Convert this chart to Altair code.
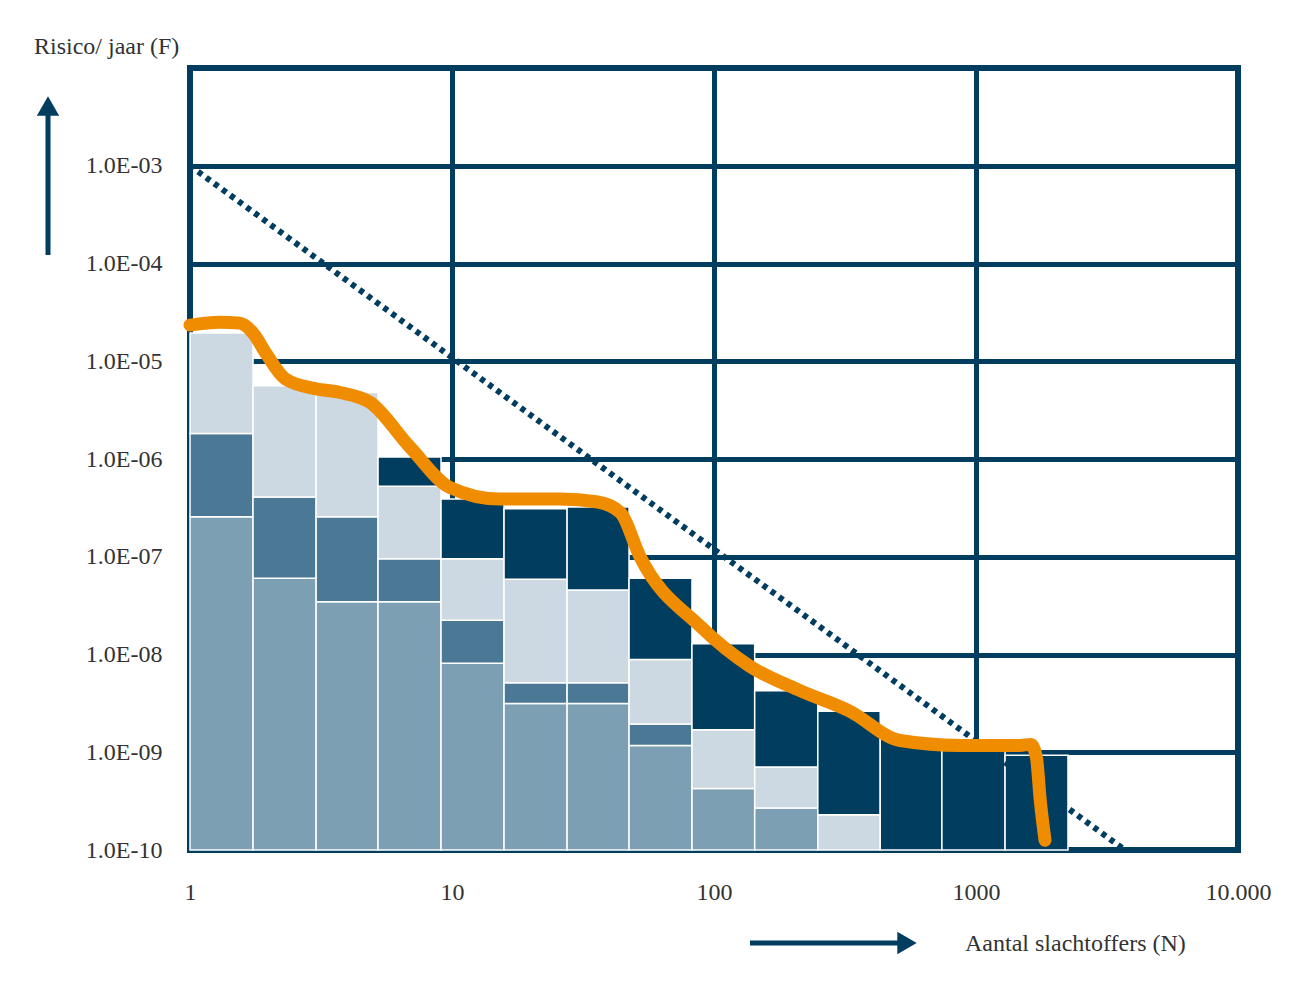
import altair as alt
import pandas as pd

NAVY = "#003d5f"
SERIF = "Liberation Serif"

# bin edges of the N classes (number of victims)
edges = [1, 1.74, 3.03, 5.22, 9.08, 15.8, 27.5, 47.4, 82.4, 143, 249, 431, 741, 1291, 2244]

# top of each stacked layer, as log10(F); None = layer absent
layer_names = ["basis", "midden", "licht", "donker"]
top_basis = [-6.59, -7.22, -7.46, -7.46, -8.09, -8.50, -8.50, -8.93, -9.37, -9.57, None, None, None, None]
top_midden = [-5.74, -6.39, -6.59, -7.02, -7.65, -8.29, -8.29, -8.71, None, None, None, None, None, None]
top_licht = [-4.71, -5.25, -5.32, -6.28, -7.02, -7.23, -7.34, -8.05, -8.77, -9.15, -9.64, None, None, None]
top_donker = [None, None, None, -5.98, -6.41, -6.51, -6.49, -7.22, -7.89, -8.37, -8.58, -8.86, -8.93, -9.03]
layer_colors = ["#7d9fb4", "#4b7895", "#cdd9e2", NAVY]

# orange FN curve
curve_n = [1, 1.3, 1.55, 1.75, 1.95, 2.31, 3.0, 3.74, 4.86, 6.92, 9.8, 15.2, 25.8, 36, 44, 52.2,
           88.5, 137, 213, 330, 513, 869, 1472, 1620, 1700, 1760, 1834]
curve_f = [-4.63, -4.60, -4.61, -4.72, -4.92, -5.18, -5.28, -5.32, -5.42, -5.88, -6.29, -6.41,
           -6.41, -6.44, -6.55, -7.0, -7.71, -8.12, -8.37, -8.58, -8.88, -8.93, -8.93, -8.92,
           -9.05, -9.5, -9.90]

# dotted norm line
norm_n = [1, 3700]
norm_f = [-3, -10]

rows = []
for i in range(len(edges) - 1):
    low = -10
    for name, tops in zip(layer_names, [top_basis, top_midden, top_licht, top_donker]):
        t = tops[i]
        if t is None:
            continue
        rows.append({"n0": edges[i], "n1": edges[i + 1], "f0": 10 ** low, "f1": 10 ** t, "laag": name})
        low = t
bars_df = pd.DataFrame(rows)
curve_df = pd.DataFrame({"n": curve_n, "f": [10 ** v for v in curve_f]})
norm_df = pd.DataFrame({"n": norm_n, "f": [10 ** v for v in norm_f]})

xscale = alt.Scale(type="log", domain=[1, 10000])
yscale = alt.Scale(type="log", domain=[1e-10, 1e-2])

xaxis = alt.Axis(
    values=[1, 10, 100, 1000, 10000], title=None, grid=True, gridColor=NAVY, gridWidth=5,
    domain=False, ticks=False, labelPadding=30, labelFont=SERIF, labelFontSize=24,
    labelColor="#333", labelExpr="datum.value == 10000 ? '10.000' : datum.value",
    labelFlush=False,
)
yaxis = alt.Axis(
    values=[1e-10, 1e-9, 1e-8, 1e-7, 1e-6, 1e-5, 1e-4, 1e-3], title=None, grid=True,
    gridColor=NAVY, gridWidth=5, domain=False, ticks=False, labelPadding=28,
    labelFont=SERIF, labelFontSize=24, labelColor="#333",
    labelExpr="'1.0E-' + (abs(round(log(datum.value)/LN10)) < 10 ? '0' : '') + abs(round(log(datum.value)/LN10))",
)

bars = alt.Chart(bars_df).mark_rect(stroke="white", strokeWidth=1.5).encode(
    x=alt.X("n0:Q", scale=xscale, axis=xaxis),
    x2="n1:Q",
    y=alt.Y("f0:Q", scale=yscale, axis=yaxis),
    y2="f1:Q",
    color=alt.Color("laag:N", scale=alt.Scale(domain=layer_names, range=layer_colors), legend=None),
)

norm = alt.Chart(norm_df).mark_line(color=NAVY, strokeWidth=6, strokeDash=[5, 5]).encode(
    x=alt.X("n:Q", scale=xscale), y=alt.Y("f:Q", scale=yscale)
)

curve = alt.Chart(curve_df).mark_line(color="#f08c00", strokeWidth=13, interpolate="monotone",
                                      strokeCap="round", strokeJoin="round").encode(
    x=alt.X("n:Q", scale=xscale), y=alt.Y("f:Q", scale=yscale)
)

one = pd.DataFrame({"a": [0]})
base = alt.Chart(one)
up_line = base.mark_rule(color=NAVY, strokeWidth=5).encode(
    x=alt.value(-142), y=alt.value(187), y2=alt.value(45))
up_head = base.mark_point(shape="triangle-up", filled=True, color=NAVY, size=500, opacity=1).encode(
    x=alt.value(-142), y=alt.value(38))
y_title = base.mark_text(text="Risico/  jaar (F)", font=SERIF, fontSize=24, color="#333",
                         align="left", baseline="middle").encode(x=alt.value(-156), y=alt.value(-21))
right_line = base.mark_rule(color=NAVY, strokeWidth=5).encode(
    x=alt.value(560), x2=alt.value(710), y=alt.value(875))
right_head = base.mark_point(shape="triangle-right", filled=True, color=NAVY, size=500, opacity=1).encode(
    x=alt.value(717), y=alt.value(875))
x_title = base.mark_text(text="Aantal  slachtoffers (N)", font=SERIF, fontSize=24, color="#333",
                         align="left", baseline="middle").encode(x=alt.value(775), y=alt.value(876))

chart = alt.layer(
    bars, norm, curve, up_line, up_head, y_title, right_line, right_head, x_title
).properties(
    width=1048, height=782, autosize=alt.AutoSizeParams(type="none"),
    padding={"left": 182, "top": 60, "right": 60, "bottom": 130},
).configure_view(stroke=NAVY, strokeWidth=6)

chart.save("out.html", embed_options={"renderer": "svg", "actions": False})
